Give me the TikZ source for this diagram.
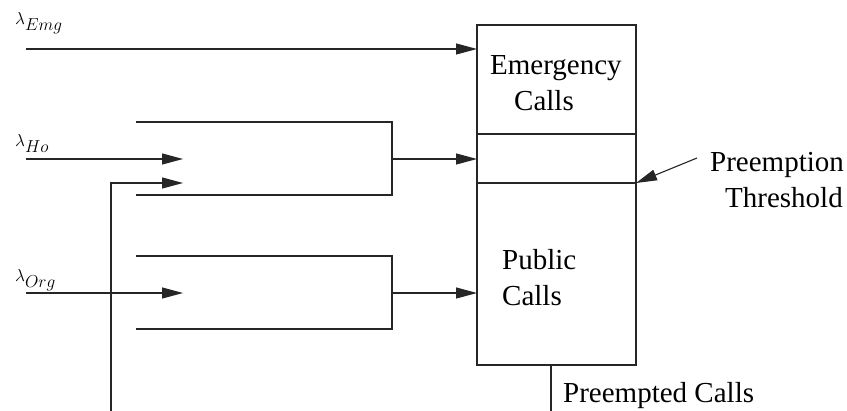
\documentclass[tikz,border=0pt]{standalone}
\usepackage{fontspec}
\setmainfont{Liberation Serif}
\usetikzlibrary{arrows.meta}
% arrival rate: lambda with a lowered italic class name
\newcommand{\ratelabel}[1]{$\lambda$\raisebox{-5.5pt}{$#1$}}
\begin{document}
\begin{tikzpicture}[x=1pt,y=-1pt,
  wire/.style={line width=1.1pt, draw=black!85},
  feed/.style={wire, -{Triangle[length=21pt,width=11pt]}},
  part/.style={wire, inner sep=0pt, outer sep=0pt, minimum width=159pt, anchor=north west},
  caption/.style={inner sep=0pt, font=\rmfamily\fontsize{29}{36}\selectfont, align=left},
  rate/.style={inner sep=0pt, anchor=base west, font=\fontsize{17}{20}\selectfont}]

\fill[white] (0,0) rectangle (847,411);
\useasboundingbox (0,0) rectangle (847,411);

% the channel pool, split into its three regions
\node[part, minimum height=109pt] (emg) at (477,25) {};
\node[part, minimum height=49pt]  (mid) at (emg.south west) {};
\node[part, minimum height=182pt] (pub) at (mid.south west) {};

\node[caption, anchor=north west] (emgtext) at (490,55) {Emergency\\\hspace*{24pt}Calls};
\node[caption, anchor=north west] (pubtext) at (502,249.5) {Public\\Calls};
\node[caption, anchor=north west] (thrtext) at (710,152) {Preemption\\\hspace*{15pt}Threshold};
\node[caption, anchor=base west] (pretext) at (563,403) {Preempted Calls};

% arrival rates
\node[rate] (lemg) at (15,25)  {\ratelabel{Emg}};
\node[rate] (lho)  at (15,147) {\ratelabel{Ho}};
\node[rate] (lorg) at (15,282) {\ratelabel{Org}};

% emergency arrivals go straight to their region
\coordinate (emgIn) at (26,49);
\draw[feed] (emgIn) -- (emgIn -| emg.west);

% handoff arrivals merge with preempted calls
\coordinate (hoIn)  at (26,159);
\coordinate (hoTip) at (183,159);
\coordinate (reTip) at (183,183);
\coordinate (reBot) at (111,411);
\draw[feed] (hoIn) -- (hoTip);
\draw[feed] (reBot) |- (reTip);
\coordinate (hoA) at (136,122);
\coordinate (hoB) at (392,195);
\coordinate (hoC) at (136,195);
\draw[wire] (hoA) -| (hoB) -- (hoC);
\coordinate (hoOut) at (392,159);
\draw[feed] (hoOut) -- (hoOut -| mid.west);

% originating public arrivals
\coordinate (orgIn)  at (26,293);
\coordinate (orgTip) at (183,293);
\draw[feed] (orgIn) -- (orgTip);
\coordinate (orgA) at (136,256);
\coordinate (orgB) at (392,329);
\coordinate (orgC) at (136,329);
\draw[wire] (orgA) -| (orgB) -- (orgC);
\coordinate (orgOut) at (392,293);
\draw[feed] (orgOut) -- (orgOut -| pub.west);

% threshold pointer and preempted output
\coordinate (thrTail) at (697,158);
\draw[feed] (thrTail) -- (pub.north east);
\coordinate (preEnd) at (551,411);
\draw[wire] (preEnd |- pub.south) -- (preEnd);
\end{tikzpicture}
\end{document}
